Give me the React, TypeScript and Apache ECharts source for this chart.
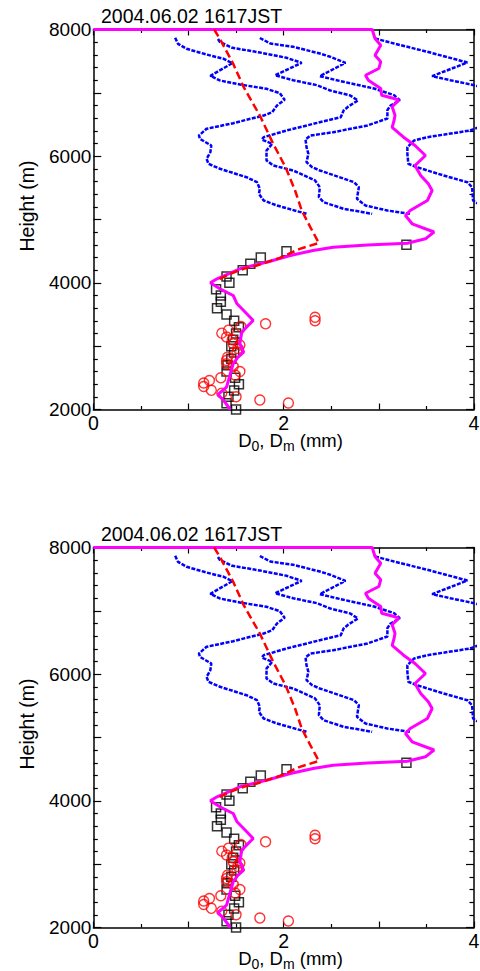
import { useEffect, useRef } from "react";
import * as echarts from "echarts";

// ---- labels -------------------------------------------------------------
const TITLE = "2004.06.02 1617JST";
const X_LABELLED = [0, 2, 4];
const Y_LABELLED = [2000, 4000, 6000, 8000];
const Y_NAME = "Height (m)";

// ---- blue dotted profiles: [diameter (mm), height (m)] ------------------
const profile1: number[][] = [
  [0.86, 7869], [0.89, 7774], [0.98, 7695], [1.19, 7605], [1.37, 7537], [1.46, 7468],
  [1.23, 7269], [1.33, 7195], [1.54, 7132], [1.82, 7064], [1.96, 6994], [2.01, 6890],
  [1.93, 6800], [1.88, 6694], [1.79, 6642], [1.47, 6521], [1.19, 6432], [1.11, 6326],
  [1.12, 6274], [1.24, 6168], [1.23, 6063], [1.19, 5958], [1.21, 5880], [1.33, 5801],
  [1.61, 5668], [1.72, 5589], [1.75, 5485], [1.74, 5406], [1.79, 5300], [1.93, 5221],
  [2.24, 5090],
];
const profile2: number[][] = [
  [1.31, 7850], [1.33, 7803], [1.46, 7711], [1.75, 7637], [2.03, 7553], [2.19, 7474],
  [1.91, 7278], [2.10, 7199], [2.35, 7121], [2.49, 7037], [2.70, 6958], [2.78, 6879],
  [2.68, 6784], [2.63, 6721], [2.60, 6615], [2.38, 6536], [2.03, 6405], [1.79, 6300],
  [1.77, 6263], [1.88, 6195], [1.82, 6089], [1.82, 5932], [1.89, 5853], [2.10, 5774],
  [2.33, 5616], [2.38, 5510], [2.37, 5352], [2.42, 5273], [2.63, 5169], [2.93, 5090],
];
const profile3: number[][] = [
  [1.75, 7866], [1.86, 7779], [2.10, 7727], [2.38, 7621], [2.49, 7569], [2.65, 7474],
  [2.38, 7263], [2.63, 7174], [2.95, 7068], [3.16, 6963], [3.22, 6884], [3.12, 6795],
  [3.09, 6726], [3.09, 6595], [2.88, 6484], [2.52, 6378], [2.28, 6326], [2.23, 6263],
  [2.24, 6142], [2.26, 6037], [2.24, 5905], [2.30, 5826], [2.38, 5774], [2.74, 5589],
  [2.79, 5510], [2.77, 5327], [2.86, 5221], [3.09, 5142], [3.33, 5090],
];
const profile4: number[][] = [
  [2.96, 7858], [3.16, 7779], [3.51, 7648], [3.93, 7479], [3.56, 7263], [3.75, 7200],
  [4.00, 7121], [4.28, 7005], [4.38, 6879], [4.28, 6721], [4.23, 6563], [3.96, 6405],
  [3.51, 6300], [3.37, 6247], [3.30, 6142], [3.30, 6037], [3.31, 5880], [3.40, 5826],
  [3.68, 5695], [3.93, 5589], [3.98, 5510], [3.99, 5300], [4.07, 5221], [4.49, 5095],
];

// ---- red dashed profile -------------------------------------------------
const dashedProfile: number[][] = [
  [1.27, 8000], [1.33, 7853], [1.47, 7458], [1.58, 7089], [1.75, 6642], [1.89, 6195],
  [2.02, 5826], [2.12, 5458], [2.19, 5142], [2.28, 4880], [2.37, 4629], [2.17, 4537],
  [1.96, 4395], [1.72, 4274], [1.58, 4222], [1.44, 4143], [1.33, 4064], [1.30, 4030],
];

// ---- magenta solid profile ----------------------------------------------
const solidProfile: number[][] = [
  [0, 8000], [2.93, 8000], [2.96, 7858], [3.02, 7752], [2.96, 7594], [3.02, 7490],
  [3.00, 7384], [2.86, 7278], [2.89, 7200], [3.02, 7068], [3.03, 6963], [3.16, 6911],
  [3.21, 6884], [3.14, 6780], [3.17, 6647], [3.16, 6563], [3.14, 6453], [3.26, 6300],
  [3.38, 6168], [3.49, 6011], [3.38, 5853], [3.44, 5695], [3.52, 5564], [3.56, 5458],
  [3.51, 5300], [3.33, 5142], [3.28, 5063], [3.35, 4932], [3.58, 4803], [3.49, 4695],
  [3.30, 4626], [2.88, 4597], [2.52, 4563], [2.31, 4511], [2.07, 4432], [1.82, 4326],
  [1.54, 4222], [1.30, 4064], [1.23, 4001], [1.33, 3906], [1.47, 3800], [1.51, 3669],
  [1.63, 3484], [1.68, 3405], [1.61, 3300], [1.56, 3221], [1.54, 3037], [1.58, 2905],
  [1.52, 2826], [1.47, 2721], [1.44, 2564], [1.40, 2352], [1.31, 2237], [1.37, 2142],
  [1.44, 2000],
];

// ---- open squares (black) -----------------------------------------------
const squareHeights = [
  4600, 4500, 4400, 4300, 4200, 4100, 4000, 3900, 3800, 3700, 3600, 3500, 3400, 3300,
  3200, 3100, 3000, 2900, 2800, 2700, 2600, 2500, 2400, 2300, 2200, 2100, 2000,
];
const squareValues = [
  3.29, 2.03, 1.76, 1.65, 1.57, 1.40, 1.43, 1.29, 1.34, 1.34, 1.30, 1.40, 1.48, 1.53,
  1.50, 1.47, 1.45, 1.48, 1.45, 1.41, 1.40, 1.49, 1.53, 1.48, 1.42, 1.40, 1.50,
];

// ---- open circles (red) -------------------------------------------------
const circleHeights = [
  3457, 3401, 3353, 3311, 3252, 3205, 3145, 3101, 3038, 3019, 2963, 2908, 2826, 2774,
  2722, 2679, 2600, 2545, 2501, 2458, 2418, 2363, 2303, 2258, 2201, 2150, 2103,
];
const circleValues = [
  2.33, 2.33, 1.81, 1.55, 1.42, 1.35, 1.40, 1.46, 1.47, 1.54, 1.52, 1.51, 1.41, 1.40,
  1.40, 1.47, 1.54, 1.49, 1.34, 1.22, 1.16, 1.16, 1.24, 1.35, 1.50, 1.75, 2.05,
];

// ---- layout -------------------------------------------------------------
const PANEL_TOPS = [29.5, 547.5];
const GRID_LEFT = 93.3;
const GRID_WIDTH = 380.7;
const GRID_HEIGHT = 380;
const FONT = "Liberation Sans";
const BLACK = "#000000";

function textWidth(text: string, size: number): number {
  const ctx = document.createElement("canvas").getContext("2d");
  if (!ctx) return text.length * size * 0.55;
  ctx.font = `${size}px "${FONT}"`;
  return ctx.measureText(text).width;
}

function txt(x: number, y: number, text: string, size: number, extra: any = {}) {
  return {
    type: "text",
    x,
    y,
    silent: true,
    ...extra,
    style: {
      text,
      fill: BLACK,
      fontSize: size,
      fontFamily: FONT,
      align: extra.align || "left",
      textAlign: extra.align || "left",
      verticalAlign: "middle",
      textVerticalAlign: "middle",
    },
  };
}

// D0, Dm (mm) with subscripts, laid out piece by piece
function xNameElements(centerX: number, baseline: number) {
  const pieces = [
    { t: "D", s: 18.5, sub: false },
    { t: "0", s: 14, sub: true },
    { t: ", D", s: 18.5, sub: false },
    { t: "m", s: 14, sub: true },
    { t: " (mm)", s: 18.5, sub: false },
  ];
  const widths = pieces.map((p) => textWidth(p.t, p.s));
  const total = widths.reduce((a, b) => a + b, 0);
  let x = centerX - total / 2;
  const out: any[] = [];
  pieces.forEach((p, i) => {
    const base = p.sub ? baseline + 4 : baseline;
    out.push(txt(x, base - 0.3465 * p.s, p.t, p.s));
    x += widths[i];
  });
  return out;
}

function buildOption() {
  const grid: any[] = [];
  const xAxis: any[] = [];
  const yAxis: any[] = [];
  const series: any[] = [];
  const graphic: any[] = [];

  const axisLine = { show: true, onZero: false, lineStyle: { color: BLACK, width: 1.5 } };
  const tickStyle = { color: BLACK, width: 1.2 };

  PANEL_TOPS.forEach((top, p) => {
    grid.push({
      left: GRID_LEFT,
      top,
      width: GRID_WIDTH,
      height: GRID_HEIGHT,
      containLabel: false,
      outerBoundsMode: "none",
    });

    const xBase = {
      type: "value",
      gridIndex: p,
      min: 0,
      max: 4,
      interval: 1,
      axisLine,
      splitLine: { show: false },
      minorSplitLine: { show: false },
      axisTick: { show: true, inside: true, length: 6, lineStyle: tickStyle },
      minorTick: { show: true, splitNumber: 2, length: 3.5, lineStyle: tickStyle },
    };
    xAxis.push({
      ...xBase,
      position: "bottom",
      axisLabel: {
        show: true,
        margin: 3,
        fontSize: 19.5,
        color: BLACK,
        fontFamily: FONT,
        formatter: (v: number) => (X_LABELLED.includes(v) ? String(v) : ""),
      },
    });
    xAxis.push({ ...xBase, position: "top", axisLabel: { show: false } });

    const yBase = {
      type: "value",
      gridIndex: p,
      min: 2000,
      max: 8000,
      interval: 1000,
      axisLine,
      splitLine: { show: false },
      minorSplitLine: { show: false },
      axisTick: { show: true, inside: true, length: 8, lineStyle: tickStyle },
      minorTick: { show: true, splitNumber: 5, length: 4.5, lineStyle: tickStyle },
    };
    yAxis.push({
      ...yBase,
      position: "left",
      axisLabel: {
        show: true,
        margin: 2,
        fontSize: 19,
        color: BLACK,
        fontFamily: FONT,
        formatter: (v: number) => (Y_LABELLED.includes(v) ? String(v) : ""),
      },
    });
    yAxis.push({ ...yBase, position: "right", axisLabel: { show: false } });

    const xi = p * 2;
    const yi = p * 2;
    const common = { xAxisIndex: xi, yAxisIndex: yi, silent: true, clip: true };

    series.push({
      ...common,
      type: "scatter",
      data: squareHeights.map((h, i) => [squareValues[i], h]),
      symbol: "rect",
      symbolSize: 9,
      itemStyle: { color: "rgba(0,0,0,0)", borderColor: BLACK, borderWidth: 1.5 },
      z: 2,
    });
    series.push({
      ...common,
      type: "scatter",
      data: circleHeights.map((h, i) => [circleValues[i], h]),
      symbol: "circle",
      symbolSize: 10,
      itemStyle: { color: "rgba(0,0,0,0)", borderColor: "#ff0000", borderWidth: 1.4 },
      z: 2,
    });
    [profile1, profile2, profile3, profile4].forEach((d) => {
      series.push({
        ...common,
        type: "line",
        data: d,
        showSymbol: false,
        symbol: "none",
        lineStyle: { color: "#0000ff", width: 2.5, type: [4, 1.4] },
        z: 3,
      });
    });
    series.push({
      ...common,
      type: "line",
      data: solidProfile,
      showSymbol: false,
      symbol: "none",
      lineStyle: { color: "#ff00ff", width: 3 },
      z: 4,
    });
    series.push({
      ...common,
      type: "line",
      data: dashedProfile,
      showSymbol: false,
      symbol: "none",
      lineStyle: { color: "#ff0000", width: 2.5, type: [8, 4] },
      z: 5,
    });

    const off = top - PANEL_TOPS[0];
    graphic.push(txt(101, 16.4 + off, TITLE, 19.5));
    graphic.push(
      txt(27, 206 + off, Y_NAME, 19.5, { rotation: Math.PI / 2, align: "center" })
    );
    xNameElements(290.5, 447 + off).forEach((e) => graphic.push(e));
  });

  return { animation: false, backgroundColor: "#ffffff", grid, xAxis, yAxis, series, graphic };
}

export default function App() {
  const ref = useRef<HTMLDivElement>(null);

  useEffect(() => {
    document.body.style.margin = "0";
    if (!ref.current) return;
    const chart = echarts.init(ref.current, null, { renderer: "svg" });
    chart.setOption(buildOption() as any);
    return () => chart.dispose();
  }, []);

  return (
    <div
      ref={ref}
      style={{ position: "absolute", left: 0, top: 0, width: 480, height: 971 }}
    />
  );
}
